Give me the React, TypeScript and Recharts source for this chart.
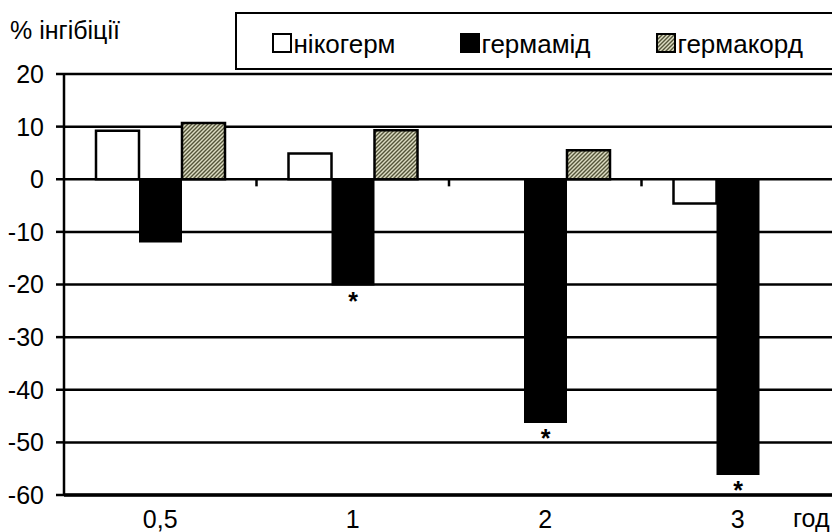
import React from 'react';
import {
  BarChart,
  Bar,
  XAxis,
  YAxis,
  CartesianGrid,
  ReferenceLine,
  Legend,
  LabelList,
} from 'recharts';

// ---- data ----
const categories = ['0,5', '1', '2', '3'];
const positions = [0.5, 1.5, 2.5, 3.5];
const nikogerm: (number | null)[] = [9.2, 4.9, null, -4.6];
const germamid: (number | null)[] = [-12.0, -20.2, -46.3, -56.2];
const germakord: (number | null)[] = [10.7, 9.3, 5.5, null];
const significant = [false, true, true, true];
const seriesKeys = ['nikogerm', 'germamid', 'germakord'];
const seriesNames = ['нікогерм', 'гермамід', 'гермакорд'];
const seriesFills = ['#fff', '#000', 'url(#hatch)'];
const yTicks = [-60, -50, -40, -30, -20, -10, 0, 10, 20];
const boundaries = [1, 2, 3];
const yLabel = '% інгібіції';
const xLabel = 'год';

const data = categories.map((c, i) => ({
  cat: c,
  pos: positions[i],
  nikogerm: nikogerm[i],
  germamid: germamid[i],
  germakord: germakord[i],
  star: significant[i] ? '*' : '',
}));

const FONT = '"Liberation Sans", Arial, sans-serif';
const legendLefts = [37, 225, 421];

const renderStar = (props: any) => {
  const vb = props.viewBox && props.viewBox.width !== undefined ? props.viewBox : props;
  const { x, y, width, height } = vb;
  if (!props.value) return null;
  const bottom = Math.max(y, y + height);
  return (
    <text x={x + width / 2} y={bottom + 24} textAnchor="middle" fontSize={25} fontWeight="bold" fontFamily={FONT} fill="#000">
      {props.value}
    </text>
  );
};

const renderYLabel = (props: any) => {
  const vb = props.viewBox;
  return (
    <text x={vb.x + 10} y={vb.y - 35} fontSize={25} fontFamily={FONT} fill="#000">
      {yLabel}
    </text>
  );
};

const renderXLabel = (props: any) => {
  const vb = props.viewBox;
  return (
    <text x={vb.x + vb.width - 41} y={vb.y + 32} fontSize={25} fontFamily={FONT} fill="#000">
      {xLabel}
    </text>
  );
};

const renderLegend = () => {
  return (
    <div
      style={{
        position: 'relative',
        width: 620,
        height: 58,
        boxSizing: 'border-box',
        border: '2.5px solid #000',
        background: '#fff',
        fontFamily: FONT,
        fontSize: 26,
        color: '#000',
      }}
    >
      {seriesNames.map((name, i) => (
        <div
          key={seriesKeys[i]}
          style={{
            position: 'absolute',
            left: legendLefts[i] - 2.5,
            top: 18,
            height: 22,
            display: 'flex',
            alignItems: 'center',
            whiteSpace: 'nowrap',
          }}
        >
          <svg width={20} height={20} style={{ display: 'block' }}>
            <rect x={1} y={1} width={18} height={18} fill={seriesFills[i]} stroke="#000" strokeWidth={2} />
          </svg>
          <span style={{ marginLeft: 2, lineHeight: '22px', position: 'relative', top: 1 }}>{name}</span>
        </div>
      ))}
    </div>
  );
};

export default function App() {
  return (
    <div style={{ position: 'fixed', left: 0, top: 0, width: 832, height: 532, overflow: 'hidden', background: '#fff' }}>
      <BarChart
        width={840}
        height={532}
        data={data}
        margin={{ top: 74, right: 6, bottom: 0, left: 0 }}
        barGap={0}
        barSize={43}
      >
        <defs>
          <pattern id="hatch" patternUnits="userSpaceOnUse" width="4" height="4">
            <rect width="4" height="4" fill="#dcdcc2" />
            <path d="M-1,1 l2,-2 M0,4 l4,-4 M3,5 l2,-2" stroke="#55553a" strokeWidth="1.4" />
          </pattern>
        </defs>
        <CartesianGrid vertical={false} stroke="#000" strokeWidth={2.5} />
        <XAxis
          dataKey="pos"
          type="number"
          domain={[0, 4]}
          ticks={positions}
          interval={0}
          tickFormatter={(v: number) => categories[positions.indexOf(v)]}
          axisLine={false}
          tickLine={false}
          height={37}
          tickMargin={9}
          tick={{ fontSize: 25, fill: '#000', fontFamily: FONT }}
          label={{ content: renderXLabel }}
        />
        <YAxis
          domain={[-60, 20]}
          ticks={yTicks}
          interval={0}
          width={64}
          axisLine={{ stroke: '#000', strokeWidth: 2.5 }}
          tickLine={{ stroke: '#000', strokeWidth: 2.5 }}
          tickSize={8}
          tickMargin={12}
          tick={{ fontSize: 25, fill: '#000', fontFamily: FONT }}
          label={{ content: renderYLabel }}
        />
        <Legend
          verticalAlign="middle"
          align="center"
          layout="horizontal"
          wrapperStyle={{ left: 235, top: 12, width: 620, height: 58 }}
          content={renderLegend}
        />
        <Bar dataKey={seriesKeys[0]} name={seriesNames[0]} fill={seriesFills[0]} stroke="#000" strokeWidth={2.5} isAnimationActive={false} />
        <Bar dataKey={seriesKeys[1]} name={seriesNames[1]} fill={seriesFills[1]} isAnimationActive={false}>
          <LabelList dataKey="star" content={renderStar} />
        </Bar>
        <Bar dataKey={seriesKeys[2]} name={seriesNames[2]} fill={seriesFills[2]} stroke="#000" strokeWidth={2.5} isAnimationActive={false} />
        <ReferenceLine y={-60} stroke="#000" strokeWidth={3.5} />
        {boundaries.map((b) => (
          <ReferenceLine
            key={b}
            segment={[{ x: b, y: 0 }, { x: b, y: -1.35 }]}
            stroke="#000"
            strokeWidth={2.5}
          />
        ))}
      </BarChart>
    </div>
  );
}
